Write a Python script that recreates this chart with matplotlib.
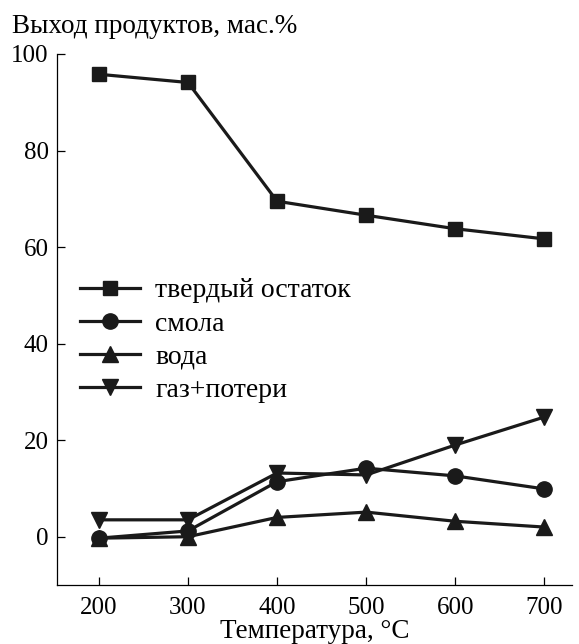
import matplotlib.pyplot as plt

plt.rcParams['font.family'] = ['Liberation Serif', 'DejaVu Serif']

temps = [200, 300, 400, 500, 600, 700]
solid = [95.8, 94.1, 69.5, 66.6, 63.8, 61.7]
tar = [-0.3, 1.2, 11.4, 14.2, 12.6, 9.9]
water = [-0.3, 0.0, 4.0, 5.1, 3.2, 2.0]
gas = [3.5, 3.5, 13.2, 12.8, 19.0, 24.8]
labels = ['твердый остаток', 'смола', 'вода', 'газ+потери']

fig = plt.figure(figsize=(5.79, 6.44), dpi=100)
ax = fig.add_axes([57 / 579, 1 - 585 / 644, (572 - 57) / 579, (585 - 54) / 644])

kw = dict(color='#1a1a1a', lw=2.3)
ax.plot(temps, solid, marker='s', ms=10.5, label=labels[0], **kw)
ax.plot(temps, tar, marker='o', ms=11, label=labels[1], **kw)
ax.plot(temps, water, marker='^', ms=11.5, label=labels[2], **kw)
ax.plot(temps, gas, marker='v', ms=11.5, label=labels[3], **kw)

ax.set_xlim(153, 731)
ax.set_ylim(-10, 100)
ax.set_xticks(temps)
ax.set_yticks([0, 20, 40, 60, 80, 100])
ax.spines['top'].set_visible(False)
ax.spines['right'].set_visible(False)
for s in ('left', 'bottom'):
    ax.spines[s].set_linewidth(0.9)
ax.tick_params(direction='in', length=6, width=0.9, labelsize=18, pad=6)
ax.tick_params(axis='x', pad=9)
ax.set_xlabel('Температура, °C', fontsize=19.5, labelpad=0)
fig.text(12 / 579, 1 - 33 / 644, 'Выход продуктов, мас.%', fontsize=19.5,
         ha='left', va='baseline')

ax.legend(loc='upper left', bbox_to_anchor=((80 - 57) / 515, (585 - 278) / 531),
          frameon=False, fontsize=20, handlelength=2.15, handletextpad=0.55,
          labelspacing=0.28, borderpad=0, borderaxespad=0)

fig.savefig('out.png', dpi=100)
